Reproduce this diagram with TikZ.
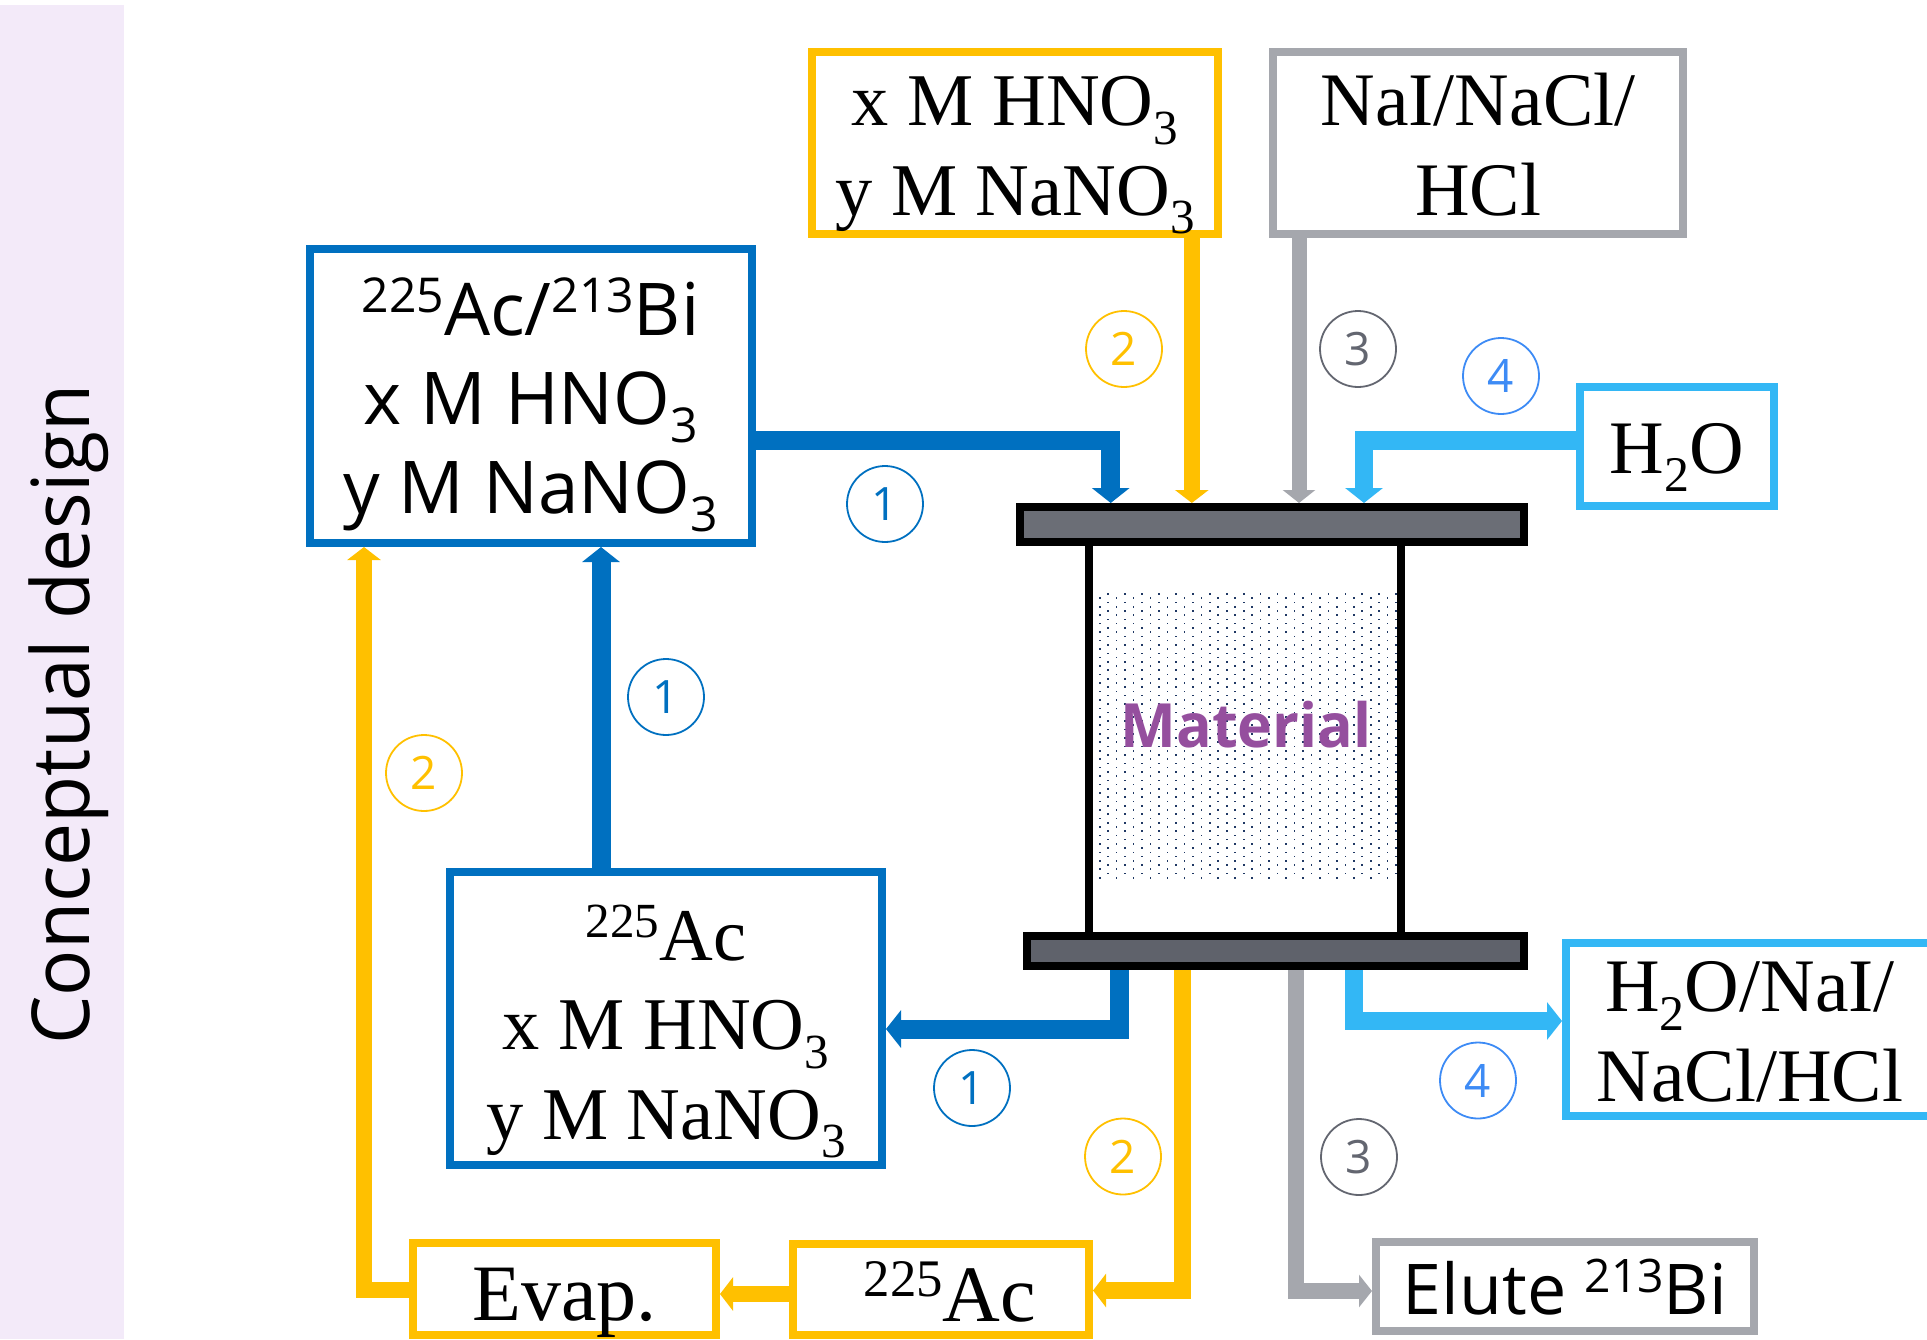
\documentclass[tikz,border=0pt]{standalone}
\usepackage{fontspec}
\usetikzlibrary{arrows.meta}
\setmainfont{Liberation Serif}
\newfontfamily\uifont{Open Sans}
\newfontfamily\titlefont[FakeStretch=0.96]{Open Sans}
\newfontfamily\uibold[FakeStretch=0.97]{Open Sans Bold}

\definecolor{cpanel}{HTML}{F3EAF9}
\definecolor{cblue}{HTML}{0070C0}
\definecolor{cyellow}{HTML}{FFC000}
\definecolor{cgrey}{HTML}{A5A7AD}
\definecolor{ccyan}{HTML}{33B7F5}
\definecolor{cnum}{HTML}{636670}
\definecolor{cbright}{HTML}{3D8BF5}
\definecolor{cpurple}{HTML}{954F9E}
\definecolor{cdots}{HTML}{1F3864}
\definecolor{cbartop}{HTML}{6B6E76}
\definecolor{cbarbot}{HTML}{5F626B}

\newcommand{\lowfig}[1]{\raisebox{-.25em}{\scalebox{.66}{#1}}}
\newcommand{\highfig}[1]{\raisebox{.31em}{\scalebox{.66}{#1}}}

\tikzset{
  textserif/.style={font=\fontsize{37.8}{44.7}\selectfont,align=center,inner sep=0pt},
  textchem/.style={font=\fontsize{37.2}{44.7}\selectfont,align=center,inner sep=0pt},
  textbig/.style={font=\fontsize{40}{44.7}\selectfont,align=center,inner sep=0pt},
  textsans/.style={font=\uifont\fontsize{36.4}{44.5}\selectfont,align=center,inner sep=0pt},
  boxblue/.style={draw=cblue,line width=4pt,minimum width=#1},
  boxyellow/.style={draw=cyellow,line width=4pt,minimum width=#1},
  boxgrey/.style={draw=cgrey,line width=4pt,minimum width=#1},
  boxcyan/.style={draw=ccyan,line width=4pt,minimum width=#1},
  bar/.style={draw=black,line width=4pt,inner sep=0pt},
  flowblue/.style={draw=cblue,line width=9.5pt,-{Triangle[length=7.5pt,width=18.5pt]}},
  flowyellow/.style={draw=cyellow,line width=8.2pt,-{Triangle[length=6.5pt,width=16.5pt]}},
  flowgrey/.style={draw=cgrey,line width=8pt,-{Triangle[length=6.5pt,width=16pt]}},
  flowcyan/.style={draw=ccyan,line width=9.3pt,-{Triangle[length=7.5pt,width=18.5pt]}},
  num/.style={circle,draw=#1,text=#1,line width=.9pt,minimum size=38pt,inner sep=0pt,
    font=\uifont\fontsize{23}{23}\selectfont},
}

\begin{document}
\begin{tikzpicture}[x=0.5pt,y=-0.5pt]
\useasboundingbox (0,0) rectangle (1927,1339);

\fill[cpanel] (0,5) rectangle (124,1339);
\node[rotate=90,anchor=base,font=\titlefont\fontsize{40}{40}\selectfont] (title) at (89.5,714.5) {Conceptual design};

% column
\foreach \i in {0,...,35}{
  \foreach \j in {0,...,33}{
    \pgfmathsetmacro{\dotx}{1099.7+8.47*\i}
    \pgfmathsetmacro{\doty}{594+8.47*\j+4.23*(1-mod(\i,2))}
    \fill[cdots] (\dotx-.8,\doty-.8) rectangle (\dotx+.8,\doty+.8);
  }
}
\node[bar,fill=cbartop,minimum width=252pt,minimum height=17.5pt] (barTop) at (1272,524.5) {};
\node[bar,fill=cbarbot,minimum width=248.5pt,minimum height=15pt] (barBottom) at (1275.5,951) {};
\draw[line width=4pt] (barTop.south -| 1089,0) -- (barBottom.north -| 1089,0);
\draw[line width=4pt] (barTop.south -| 1401,0) -- (barBottom.north -| 1401,0);
\node[font=\uibold\fontsize{30.5}{30.5}\selectfont,text=cpurple,anchor=base] (material) at (1246,747) {Material};

% boxes
\node[boxblue=221pt,textsans,text height=132pt,text depth=15pt] (boxA) at (530.6,396)
  {\highfig{225}Ac/\highfig{213}Bi\\x M HNO\lowfig{3}\\y M NaNO\lowfig{3}};
\node[boxblue=216pt,textchem,text height=133.5pt,text depth=13pt] (boxB) at (666,1018.5)
  {\highfig{225}Ac\\x M HNO\lowfig{3}\\y M NaNO\lowfig{3}};
\node[boxyellow=203pt,textchem,text height=81.5pt,text depth=9.5pt] (boxX) at (1015,143)
  {x M HNO\lowfig{3}\\y M NaNO\lowfig{3}};
\node[boxgrey=205pt,textserif,text height=81.5pt,text depth=9.5pt] (boxN) at (1478,143)
  {NaI/NaCl/\\HCl};
\node[boxcyan=97pt,textserif,text height=43pt,text depth=16.5pt] (boxW) at (1677,446.5)
  {H\lowfig{2}O};
\node[boxcyan=184pt,textserif,text height=79pt,text depth=7.5pt] (boxE) at (1750,1029.5)
  {H\lowfig{2}O/NaI/\\NaCl/HCl};
\node[boxgrey=189pt,textsans,font=\uifont\fontsize{35}{44.5}\selectfont,text height=36pt,text depth=8.5pt] (boxB2) at (1565,1286.5)
  {Elute \highfig{213}Bi};
\node[boxyellow=148pt,textbig,text height=38.5pt,text depth=7pt] (boxAc) at (941,1289.5)
  {\hspace{9pt}\highfig{225}Ac};
\node[boxyellow=151.5pt,textbig,text height=38.5pt,text depth=7.5pt] (boxEv) at (564.5,1289)
  {Evap.};

% inlets
\draw[flowblue] (boxA.east |- 0,440.5) -| (barTop.north -| 1110.7,0);
\draw[flowyellow] (boxX.south -| 1191.8,0) -- (barTop.north -| 1191.8,0);
\draw[flowgrey,line width=7.5pt] (boxN.south -| 1299,0) -- (barTop.north -| 1299,0);
\draw[flowcyan] (boxW.west |- 0,440.5) -| (barTop.north -| 1364,0);

% outlets
\draw[flowblue] (barBottom.south -| 1119,0) |- (boxB.east |- 0,1029);
\draw[flowyellow] (barBottom.south -| 1182.5,0) |- (boxAc.east |- 0,1290.5);
\draw[flowgrey] (barBottom.south -| 1295.5,0) |- (boxB2.west |- 0,1291);
\draw[flowcyan] (barBottom.south -| 1354,0) |- (boxE.west |- 0,1021);
\draw[flowyellow] (boxAc.west |- 0,1294) -- (boxEv.east |- 0,1294);
\draw[flowyellow] (boxEv.west |- 0,1290) -| (boxA.south -| 364,0);
\draw[flowblue] (boxB.north -| 601,0) -- (boxA.south -| 601,0);

\node[num=cblue] (n1a) at (885,504) {1};
\node[num=cblue] (n1b) at (666,697) {1};
\node[num=cblue] (n1c) at (972,1088) {1};
\node[num=cyellow] (n2a) at (1124,349) {2};
\node[num=cyellow] (n2b) at (424,773) {2};
\node[num=cyellow] (n2c) at (1123,1156.5) {2};
\node[num=cnum] (n3a) at (1358,349) {3};
\node[num=cnum] (n3b) at (1359,1157) {3};
\node[num=cbright] (n4a) at (1501,376) {4};
\node[num=cbright] (n4b) at (1478,1080.5) {4};
\end{tikzpicture}
\end{document}
